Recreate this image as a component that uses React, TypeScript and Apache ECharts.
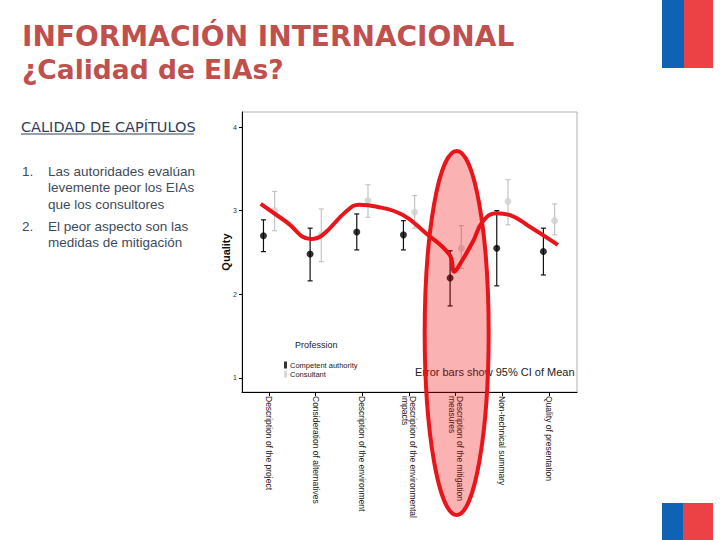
import React, { useEffect, useRef } from "react";
import * as echarts from "echarts";

const categories = [
  "Description of the project",
  "Consideration of alternatives",
  "Description of the environment",
  "Description of the environmental\nimpacts",
  "Description of the mitigation\nmeasures",
  "Non-technical summary",
  "Quality of presentation",
];
const authorityMean = [2.7, 2.48, 2.745, 2.71, 2.195, 2.55, 2.51];
const authorityLow = [2.51, 2.16, 2.53, 2.53, 1.86, 2.1, 2.23];
const authorityHigh = [2.89, 2.79, 2.96, 2.88, 2.52, 3.0, 2.79];
const consultantMean = [3.0, 2.71, 3.12, 2.98, 2.55, 3.11, 2.88];
const consultantLow = [2.76, 2.39, 2.92, 2.79, 2.31, 2.83, 2.71];
const consultantHigh = [3.23, 3.02, 3.31, 3.18, 2.82, 3.37, 3.08];
const yTicks = [1, 2, 3, 4];
const xTicks = [0, 1, 2, 3, 4, 5, 6];
// hand-drawn red annotation curve (x in category units, y in Quality)
const annotX = [-0.18, 0.36, 0.9, 1.15, 1.65, 1.93, 2.29, 2.86, 3.36, 3.87, 3.97, 4.08, 4.37, 4.58, 4.87, 5.15, 5.58, 6.19];
const annotY = [3.08, 2.87, 2.66, 2.71, 2.99, 3.07, 3.05, 2.95, 2.73, 2.47, 2.27, 2.35, 2.63, 2.87, 2.97, 2.95, 2.81, 2.59];
const highlightIndex = 4;
const bullets = [
  ["1.", "Las autoridades evalúan"],
  ["", "levemente peor los EIAs"],
  ["", "que los consultores"],
  ["2.", "El peor aspecto son las"],
  ["", "medidas de mitigación"],
];

const OFFSET = 0.12;
const RED = "#e8161b";

function errorSeries(name: string, low: number[], high: number[], shift: number, color: string) {
  return {
    type: "custom",
    name,
    data: low.map((l, i) => [i + shift, l, high[i]]),
    encode: { x: 0, y: [1, 2] },
    z: 3,
    renderItem: (_p: any, api: any) => {
      const x = api.value(0);
      const top = api.coord([x, api.value(2)]);
      const bot = api.coord([x, api.value(1)]);
      const hw = 2.5;
      const st = { stroke: color, lineWidth: 1.2 };
      return {
        type: "group",
        children: [
          { type: "line", shape: { x1: top[0], y1: top[1], x2: bot[0], y2: bot[1] }, style: st },
          { type: "line", shape: { x1: top[0] - hw, y1: top[1], x2: top[0] + hw, y2: top[1] }, style: st },
          { type: "line", shape: { x1: bot[0] - hw, y1: bot[1], x2: bot[0] + hw, y2: bot[1] }, style: st },
        ],
      };
    },
  };
}

export default function App() {
  const ref = useRef<HTMLDivElement>(null);
  useEffect(() => {
    document.body.style.margin = "0";
    const chart = echarts.init(ref.current!, undefined, { renderer: "svg" });
    const textGraphics: any[] = [
      {
        type: "text", left: 22, top: 22,
        style: { text: "INFORMACIÓN INTERNACIONAL", fill: "#c0504d", font: "bold 28px 'DejaVu Sans'" },
      },
      {
        type: "text", left: 22, top: 56,
        style: { text: "¿Calidad de EIAs?", fill: "#c0504d", font: "bold 26.5px 'DejaVu Sans'" },
      },
      {
        type: "text", left: 21, top: 119,
        style: { text: "CALIDAD DE CAPÍTULOS", fill: "#2c3e5a", font: "14.5px 'DejaVu Sans'" },
      },
      { type: "line", shape: { x1: 21, y1: 134, x2: 194, y2: 134 }, style: { stroke: "#2c3e5a", lineWidth: 1 } },
      ...bullets.flatMap(([n, t], i) => {
        const y = [171, 187, 204, 226, 242][i];
        const out: any[] = [
          { type: "text", x: 48, y, style: { text: t, fill: "#3d4b5c", font: "13.5px 'Liberation Sans'", verticalAlign: "middle" } },
        ];
        if (n) out.push({ type: "text", x: 22, y, style: { text: n, fill: "#3d4b5c", font: "13.5px 'Liberation Sans'", verticalAlign: "middle" } });
        return out;
      }),
      { type: "rect", shape: { x: 662, y: 0, width: 22, height: 68 }, style: { fill: "#0f62b4" } },
      { type: "rect", shape: { x: 684, y: 0, width: 29, height: 68 }, style: { fill: "#ec4245" } },
      { type: "rect", shape: { x: 662, y: 503, width: 21, height: 37 }, style: { fill: "#0f62b4" } },
      { type: "rect", shape: { x: 683, y: 503, width: 30, height: 37 }, style: { fill: "#ec4245" } },
      {
        type: "text", x: 295, y: 345,
        style: { text: "Profession", fill: "#222", font: "9px 'Liberation Sans'", verticalAlign: "middle" },
      },
      {
        type: "text", x: 415, y: 372,
        style: { text: "Error bars show 95% CI of Mean", fill: "#222", font: "11px 'Liberation Sans'", verticalAlign: "middle" },
      },
      {
        type: "text", x: 226, y: 252, rotation: Math.PI / 2,
        style: { text: "Quality", fill: "#111", font: "bold 11px 'Liberation Sans'", align: "center", verticalAlign: "middle" },
      },
    ];
    const option: any = {
      animation: false,
      backgroundColor: "#fff",
      grid: { left: 242, top: 112, right: 143, bottom: 148, show: true, borderColor: "#b0b0b0", borderWidth: 1, backgroundColor: "#fff" },
      legend: {
        data: ["Competent authority", "Consultant"],
        orient: "vertical", left: 279, top: 356, itemWidth: 3, itemHeight: 7, itemGap: 1, icon: "rect",
        textStyle: { fontSize: 7.5, color: "#222", fontFamily: "Liberation Sans", padding: [0, 0, 0, -2] },
        selectedMode: false,
      },
      xAxis: {
        type: "value", min: -0.58, max: 6.6,
        splitLine: { show: false },
        axisLine: { show: true, onZero: false, lineStyle: { color: "#000", width: 1 } },
        axisTick: { show: true, customValues: xTicks, length: 4, lineStyle: { color: "#000" } },
        axisLabel: {
          customValues: xTicks, rotate: -90, fontSize: 8.5, color: "#222", fontFamily: "Liberation Sans",
          lineHeight: 8, margin: 4,
          formatter: (v: number) => categories[Math.round(v)] ?? "",
        },
      },
      yAxis: {
        type: "value", min: 0.83, max: 4.18,
        splitLine: { show: false },
        axisLine: { show: true, onZero: false, lineStyle: { color: "#000", width: 1 } },
        axisTick: { show: true, customValues: yTicks, length: 3, lineStyle: { color: "#000" } },
        axisLabel: { customValues: yTicks, fontSize: 7, color: "#333", margin: 5, fontFamily: "Liberation Sans" },
      },
      series: [
        errorSeries("Competent authority CI", authorityLow, authorityHigh, -OFFSET, "#111"),
        errorSeries("Consultant CI", consultantLow, consultantHigh, OFFSET, "#c4c4c4"),
        {
          type: "scatter", name: "Competent authority", symbolSize: 7, z: 4,
          itemStyle: { color: "#000" },
          data: authorityMean.map((v, i) => [i - OFFSET, v]),
        },
        {
          type: "scatter", name: "Consultant", symbolSize: 7, z: 4,
          itemStyle: { color: "#cfcfcf" },
          data: consultantMean.map((v, i) => [i + OFFSET, v]),
        },
        {
          type: "line", name: "annotation", smooth: 0.45, showSymbol: false, z: 6,
          lineStyle: { color: RED, width: 4 },
          data: annotX.map((x, i) => [x, annotY[i]]),
        },
      ],
      graphic: textGraphics,
    };
    chart.setOption(option);
    const c = chart.convertToPixel({ xAxisIndex: 0, yAxisIndex: 0 }, [highlightIndex, 2.5]) as number[];
    chart.setOption({
      graphic: [
        ...textGraphics,
        {
          type: "ellipse", z: 100,
          shape: { cx: c[0] + 1, cy: 333, rx: 32, ry: 182 },
          style: { fill: "rgba(240,0,0,0.3)", stroke: RED, lineWidth: 4 },
        },
      ],
    });
    return () => chart.dispose();
  }, []);
  return <div ref={ref} style={{ width: 720, height: 540 }} />;
}
